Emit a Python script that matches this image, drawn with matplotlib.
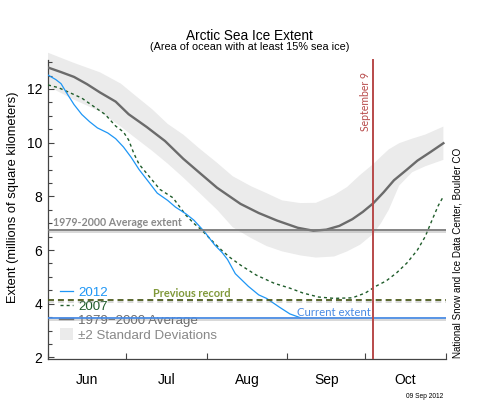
import numpy as np
import matplotlib
matplotlib.use('Agg')
import matplotlib.pyplot as plt
import matplotlib.patheffects as pe
from matplotlib.ticker import FixedLocator, NullFormatter, FixedFormatter

plt.rcParams['font.family'] = ['Liberation Sans', 'DejaVu Sans']

# days counted from June 1
avg_days = [0, 5, 10, 15, 20, 26, 31, 38, 45, 52, 58, 65, 74, 81, 88, 96, 102,
            107, 112, 117, 121, 125, 129, 133, 138, 142, 147, 152]
avg_vals = [12.8, 12.63, 12.45, 12.18, 11.87, 11.53, 11.06, 10.58, 10.06, 9.4,
            8.9, 8.32, 7.72, 7.38, 7.1, 6.83, 6.72, 6.76, 6.9, 7.15, 7.42, 7.74,
            8.15, 8.6, 9.0, 9.33, 9.65, 9.98]

sd_days = [0, 10, 20, 28, 33, 40, 46, 52, 58, 65, 71, 78, 84, 90, 97, 103, 110,
           115, 120, 125, 128, 131, 135, 140, 145, 152]
sd_upper = [13.35, 12.97, 12.62, 12.2, 11.8, 11.25, 10.7, 10.3, 9.8, 9.25, 8.75,
            8.38, 8.12, 7.85, 7.75, 7.76, 8.05, 8.35, 8.8, 9.2, 9.48, 9.75, 9.98,
            10.15, 10.3, 10.6]
sd_lower = [12.1, 11.6, 11.16, 10.6, 10.22, 9.7, 9.22, 8.7, 8.15, 7.5, 6.85,
            6.45, 6.15, 5.95, 5.8, 5.72, 5.76, 5.95, 6.2, 6.6, 7.0, 7.5, 8.4,
            8.9, 9.12, 9.36]

y2012_days = [0, 3, 5, 7, 10, 13, 16, 19, 23, 26, 29, 32, 35, 39, 42, 46, 49, 53,
              56, 60, 64, 67, 69, 72, 77, 81, 84, 89, 93, 97]
y2012_vals = [12.52, 12.35, 12.2, 11.88, 11.42, 11.05, 10.78, 10.55, 10.36,
              10.15, 9.84, 9.45, 9.0, 8.5, 8.12, 7.85, 7.6, 7.35, 7.12, 6.7,
              6.2, 5.9, 5.65, 5.12, 4.65, 4.33, 4.2, 3.87, 3.62, 3.48]

y2007_days = [0, 4, 8, 13, 18, 22, 26, 29, 31, 33, 35, 39, 43, 48, 53, 56, 59,
              63, 67, 70, 74, 80, 87, 93, 98, 104, 110, 117, 122, 126, 130, 134,
              138, 142, 145, 148, 150, 152]
y2007_vals = [12.15, 12.05, 11.88, 11.66, 11.32, 11.05, 10.62, 10.4, 10.1, 9.6,
              9.2, 8.73, 8.26, 7.95, 7.3, 7.0, 6.75, 6.35, 5.97, 5.72, 5.44,
              5.07, 4.76, 4.58, 4.4, 4.25, 4.2, 4.22, 4.4, 4.65, 4.85, 5.15,
              5.52, 6.0, 6.5, 7.2, 7.65, 8.0]

avg_extent = 6.74
previous_record = 4.13
current_extent = 3.47
sep9_day = 125   # where the annotation line sits in the original

month_edges = [0, 30, 61, 92, 122, 153]
month_mids = [15, 45.5, 76.5, 107, 137.5]
month_names = ['Jun', 'Jul', 'Aug', 'Sep', 'Oct']

fig = plt.figure(figsize=(4.99, 4.0), dpi=100)
ax = fig.add_axes([48/499, 40.7/400, 398/499, 324/400])

band = ax.fill(np.concatenate([sd_days, sd_days[::-1]]),
               np.concatenate([sd_upper, sd_lower[::-1]]),
               color='#ebebeb', lw=0, zorder=1,
               label='\u00b12 Standard Deviations')[0]
avg_line, = ax.plot(avg_days, avg_vals, color='#6b6b6b', lw=1.7, zorder=3,
                    label='1979\u22122000 Average')
l2007, = ax.plot(y2007_days, y2007_vals, color='#1f5c2a', lw=1.0,
                 ls=(0, (2.2, 2.2)), zorder=3, label='2007')
l2012, = ax.plot(y2012_days, y2012_vals, color='#1e96f5', lw=0.9, zorder=3,
                 label='2012')

shadow = [pe.SimpleLineShadow(offset=(0, -1.2), shadow_color='#888888', alpha=0.35),
          pe.Normal()]
ax.axhline(avg_extent, color='#7a7a7a', lw=1.3, zorder=4, path_effects=shadow)
ax.axhline(previous_record, color='#4b5a1c', lw=1.3, ls=(0, (3.3, 2.2)), zorder=4,
           path_effects=shadow)
ax.axhline(current_extent, color='#4a8be3', lw=1.3, zorder=4, path_effects=shadow)
ax.plot([sep9_day, sep9_day], [1.93, 13.08], color='#b84a4a', lw=1.4, zorder=5)

ax.text(2, 7.02, '1979-2000 Average extent', family=['Lato', 'DejaVu Sans'],
        weight='bold', color='#8a8a8a', fontsize=7.7, va='center', zorder=6)
ax.text(40.4, 4.38, 'Previous record', family=['Lato', 'DejaVu Sans'],
        weight='bold', color='#80993a', fontsize=7.9, va='center', zorder=6)
ax.text(95.6, 3.69, 'Current extent', family=['Lato', 'DejaVu Sans'],
        color='#4a8be3', fontsize=8.2, va='center', zorder=6)
ax.text(122.1, 11.52, 'September 9', family=['Lato', 'DejaVu Sans'],
        color='#b84a4a', fontsize=7.6, rotation=90, ha='center', va='center',
        zorder=6)

ax.set_xlim(0, 153)
ax.set_ylim(1.93, 14)
for s in ['top', 'right']:
    ax.spines[s].set_visible(False)
ax.spines['left'].set_bounds(1.93, 13.08)
for s in ['left', 'bottom']:
    ax.spines[s].set_color('#444444')
    ax.spines[s].set_linewidth(0.9)

ax.yaxis.set_major_locator(FixedLocator([2, 4, 6, 8, 10, 12]))
ax.yaxis.set_minor_locator(FixedLocator(np.arange(2, 13.01, 0.5)))
ax.tick_params(axis='y', which='major', direction='in', length=4, width=0.8,
               color='#444444', labelsize=10, pad=4)
ax.tick_params(axis='y', which='minor', direction='in', length=2.8, width=0.8,
               color='#444444')

ax.xaxis.set_major_locator(FixedLocator(month_edges))
ax.xaxis.set_major_formatter(NullFormatter())
ax.xaxis.set_minor_locator(FixedLocator(month_mids))
ax.xaxis.set_minor_formatter(FixedFormatter(month_names))
ax.tick_params(axis='x', which='major', direction='in', length=4, width=0.8,
               color='#444444')
ax.tick_params(axis='x', which='minor', length=0, labelsize=10, pad=10)

ax.set_ylabel('Extent (millions of square kilometers)', fontsize=9.3, labelpad=6)

leg = ax.legend(handles=[l2012, l2007, avg_line, band], loc='upper left',
                bbox_to_anchor=(0.03, 0.228), frameon=False, fontsize=9.6,
                handlelength=1.0, handleheight=1.0, handletextpad=0.35,
                labelspacing=0.05, borderaxespad=0, borderpad=0)
for txt, c in zip(leg.get_texts(), ['#1e96f5', '#1f5c2a', '#6b6b6b', '#888888']):
    txt.set_color(c)
leg.set_zorder(2)

fig.text(0.5, 1 - 36/400, 'Arctic Sea Ice Extent', ha='center', va='center',
         fontsize=9.8)
fig.text(0.5, 1 - 47.5/400, '(Area of ocean with at least 15% sea ice)',
         ha='center', va='center', fontsize=7.8)
fig.text(458/499, 1 - 358/400, 'National Snow and Ice Data Center, Boulder CO',
         rotation=90, ha='center', va='bottom', fontsize=7.1)
fig.text(443/499, 1 - 397/400, '09 Sep 2012', ha='right', va='center',
         fontsize=4.8)

fig.savefig('out.png', dpi=100)
